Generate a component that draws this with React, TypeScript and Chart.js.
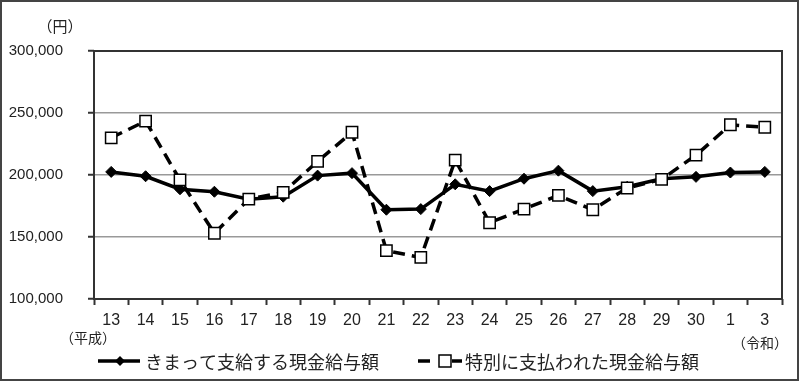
import React, { useEffect, useRef } from "react";
import { Chart, registerables } from "chart.js";

Chart.register(...registerables);

const categories = ["13", "14", "15", "16", "17", "18", "19", "20", "21", "22", "23", "24", "25", "26", "27", "28", "29", "30", "1", "3"];
const regularPay = [202500, 199000, 188500, 186500, 180500, 182500, 199500, 201500, 172000, 172500, 192500, 187000, 197000, 203500, 187000, 190500, 197000, 198500, 202000, 202500];
const specialPay = [230000, 243500, 196000, 153000, 180500, 186000, 211000, 234500, 139000, 133500, 212000, 161500, 172500, 183500, 172000, 189500, 196500, 216000, 240500, 238500];
const seriesNames = ["きまって支給する現金給与額", "特別に支払われた現金給与額"];
const yTicks = [100000, 150000, 200000, 250000, 300000];
const unitLabel = "（円）";
const eraStart = "（平成）";
const eraEnd = "（令和）";

const JP = '"Noto Sans CJK JP", sans-serif';
const NUM = '"Liberation Sans", Arial, sans-serif';

export default function App() {
  const ref = useRef<HTMLCanvasElement | null>(null);
  useEffect(() => {
    const canvas = ref.current;
    if (!canvas) return;
    const decor = {
      id: "decor",
      beforeDatasetsDraw(chart: any) {
        const { ctx, chartArea } = chart;
        ctx.save();
        ctx.strokeStyle = "#333";
        ctx.lineWidth = 2;
        ctx.strokeRect(chartArea.left, chartArea.top, chartArea.right - chartArea.left, chartArea.bottom - chartArea.top);
        ctx.restore();
      },
      afterDraw(chart: any) {
        const { ctx } = chart;
        ctx.save();
        // outer frame
        ctx.strokeStyle = "#444";
        ctx.lineWidth = 2;
        ctx.strokeRect(1, 1, 797, 379);
        // annotations
        ctx.fillStyle = "#222";
        ctx.textBaseline = "middle";
        ctx.textAlign = "center";
        ctx.font = `15px ${JP}`;
        ctx.fillText(unitLabel, 60, 26);
        ctx.font = `14px ${JP}`;
        ctx.fillText(eraStart, 88, 338);
        ctx.fillText(eraEnd, 760, 343);
        // legend item 1
        ctx.strokeStyle = "#000";
        ctx.lineWidth = 3.5;
        ctx.beginPath();
        ctx.moveTo(98, 361);
        ctx.lineTo(140, 361);
        ctx.stroke();
        ctx.fillStyle = "#000";
        ctx.beginPath();
        ctx.moveTo(120, 356);
        ctx.lineTo(125, 361);
        ctx.lineTo(120, 366);
        ctx.lineTo(115, 361);
        ctx.closePath();
        ctx.fill();
        ctx.fillStyle = "#222";
        ctx.textAlign = "left";
        ctx.font = `18px ${JP}`;
        ctx.fillText(seriesNames[0], 145, 362);
        // legend item 2
        ctx.strokeStyle = "#000";
        ctx.lineWidth = 3.5;
        ctx.beginPath();
        ctx.moveTo(418, 361);
        ctx.lineTo(430, 361);
        ctx.moveTo(452, 361);
        ctx.lineTo(462, 361);
        ctx.stroke();
        ctx.fillStyle = "#fff";
        ctx.fillRect(439, 355, 12, 12);
        ctx.lineWidth = 1.5;
        ctx.strokeRect(439, 355, 12, 12);
        ctx.fillStyle = "#222";
        ctx.fillText(seriesNames[1], 465, 362);
        ctx.restore();
      },
    };
    const chart = new Chart(canvas, {
      type: "line",
      data: {
        labels: categories,
        datasets: [
          {
            label: seriesNames[0],
            data: regularPay,
            borderColor: "#000",
            borderWidth: 3.5,
            backgroundColor: "#000",
            pointStyle: "rectRot",
            pointRadius: 5.5,
            pointBorderWidth: 1,
            pointBorderColor: "#000",
            pointBackgroundColor: "#000",
            tension: 0,
            order: 1,
          },
          {
            label: seriesNames[1],
            data: specialPay,
            borderColor: "#000",
            borderWidth: 3.5,
            borderDash: [12, 7],
            backgroundColor: "#fff",
            pointStyle: "rect",
            pointRadius: 8,
            pointBorderWidth: 1.5,
            pointBorderColor: "#000",
            pointBackgroundColor: "#fff",
            tension: 0,
            order: 0,
          },
        ],
      },
      options: {
        responsive: false,
        animation: false,
        events: [],
        layout: { padding: { top: 51, right: 18, bottom: 0, left: 0 } },
        plugins: {
          legend: { display: false },
          tooltip: { enabled: false },
          title: { display: false },
        },
        scales: {
          x: {
            offset: true,
            afterFit(scale: any) {
              scale.height = 84;
            },
            grid: {
              offset: true,
              drawOnChartArea: false,
              tickLength: 6,
              tickColor: "#333",
              tickWidth: 2,
            },
            border: { display: false },
            ticks: {
              color: "#222",
              font: { family: NUM, size: 16 },
              padding: 6,
              maxRotation: 0,
              autoSkip: false,
            },
          },
          y: {
            min: 100000,
            max: 300000,
            afterFit(scale: any) {
              scale.width = 94;
            },
            afterBuildTicks(scale: any) {
              scale.ticks = yTicks.map((v) => ({ value: v }));
            },
            grid: {
              color: (c: any) =>
                c.tick && (c.tick.value === 100000 || c.tick.value === 300000) ? "rgba(0,0,0,0)" : "#999",
              lineWidth: 1.5,
              tickLength: 6,
              tickColor: "#333",
              tickWidth: 2,
            },
            border: { display: false },
            ticks: {
              color: "#222",
              font: { family: NUM, size: 15 },
              padding: 25,
              callback: (v: any) => Number(v).toLocaleString("en-US"),
            },
          },
        },
      },
      plugins: [decor],
    } as any);
    return () => chart.destroy();
  }, []);
  return (
    <div style={{ position: "fixed", left: 0, top: 0, width: 800, height: 383, background: "#fff" }}>
      <canvas ref={ref} width={800} height={383} style={{ display: "block", width: 800, height: 383 }} />
    </div>
  );
}
